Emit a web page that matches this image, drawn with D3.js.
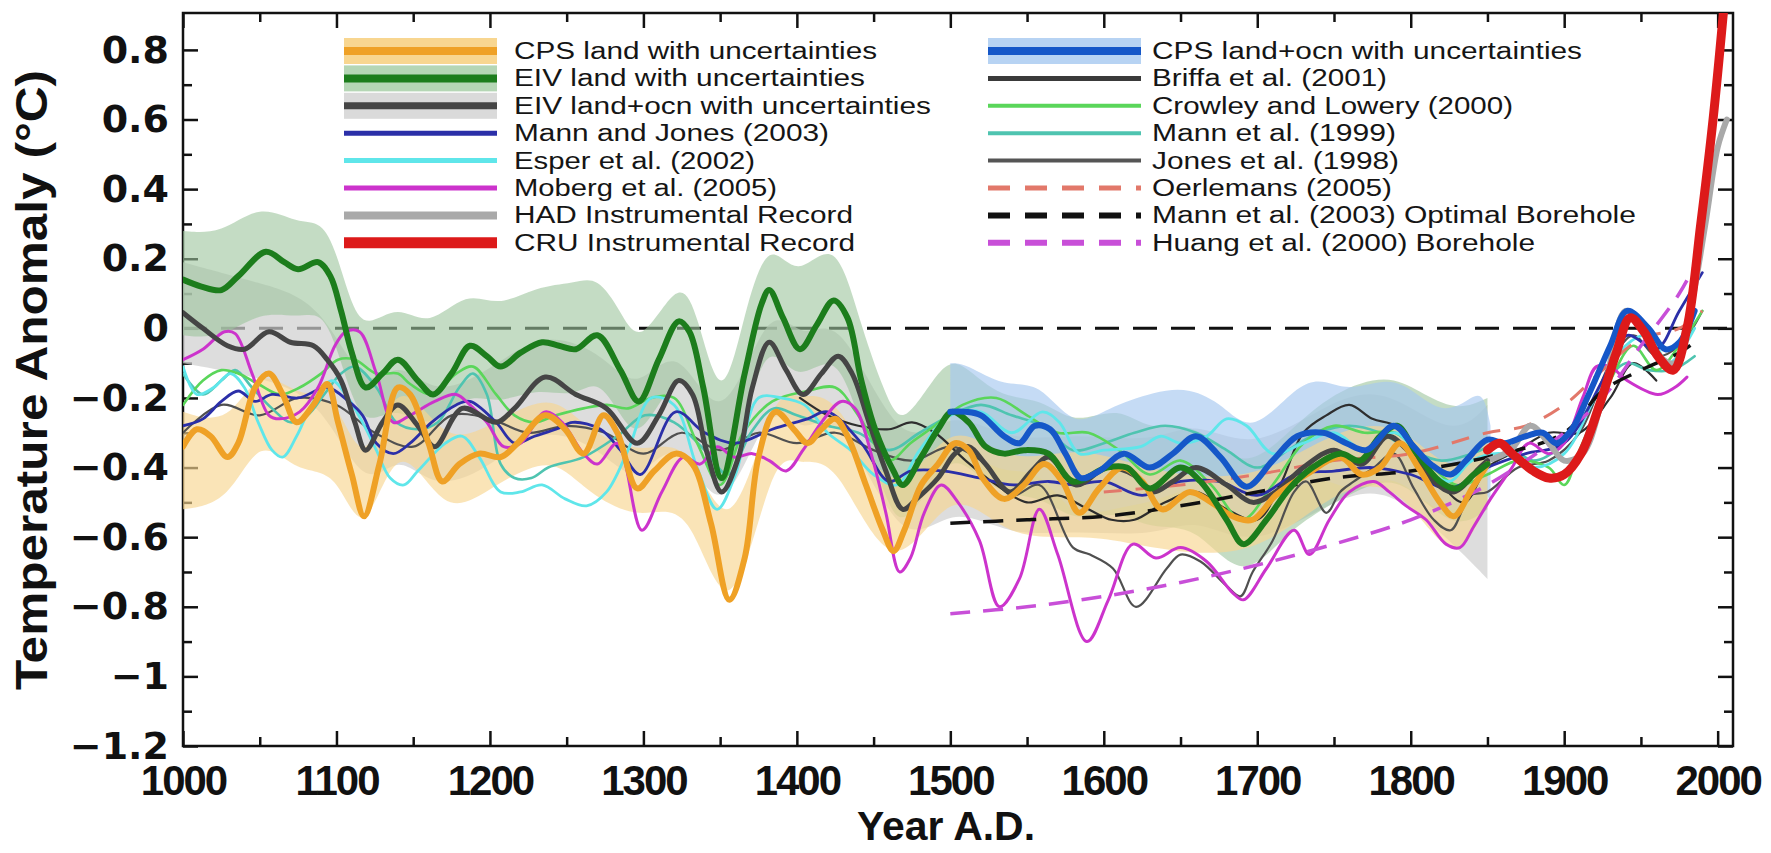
<!DOCTYPE html>
<html><head><meta charset="utf-8">
<script src="https://cdn.jsdelivr.net/npm/d3@7"></script>
<style>html,body{margin:0;padding:0;background:#fff;}svg{display:block;}</style>
</head><body>
<svg id="chart" width="1771" height="853"></svg>
<script>
// ---------------- DATA ----------------
const xMajorTicks = [1000,1100,1200,1300,1400,1500,1600,1700,1800,1900,2000];
const xMinorTicks = [1050,1150,1250,1350,1450,1550,1650,1750,1850,1950];
const yMajorTicks = [-1.2,-1,-0.8,-0.6,-0.4,-0.2,0,0.2,0.4,0.6,0.8];
const yTickLabels = ["\u22121.2","\u22121","\u22120.8","\u22120.6","\u22120.4","\u22120.2","0","0.2","0.4","0.6","0.8"];
const yMinorTicks = [-1.1,-0.9,-0.7,-0.5,-0.3,-0.1,0.1,0.3,0.5,0.7];

// [year, lower, upper]
const cpsLandBand = [[1000,-0.52,-0.24],[1030,-0.50,-0.28],[1050,-0.30,-0.10],[1075,-0.42,-0.20],[1100,-0.40,-0.18],[1118,-0.64,-0.44],[1140,-0.28,-0.10],[1170,-0.55,-0.34],[1200,-0.46,-0.28],[1240,-0.36,-0.18],[1260,-0.46,-0.28],[1298,-0.56,-0.37],[1330,-0.48,-0.30],[1356,-0.92,-0.66],[1385,-0.34,-0.16],[1402,-0.40,-0.21],[1425,-0.36,-0.17],[1463,-0.76,-0.54],[1500,-0.43,-0.24],[1535,-0.60,-0.39],[1575,-0.60,-0.35],[1600,-0.60,-0.36],[1640,-0.64,-0.42],[1700,-0.66,-0.44],[1750,-0.46,-0.29],[1793,-0.43,-0.26],[1828,-0.71,-0.44],[1850,-0.50,-0.31]];
const eivLandBand = [[1000,-0.02,0.28],[1025,-0.03,0.27],[1050,0.05,0.36],[1075,0.03,0.30],[1090,0.05,0.31],[1100,-0.05,0.22],[1110,-0.20,0.06],[1120,-0.28,0.00],[1140,-0.22,0.07],[1160,-0.30,0.00],[1185,-0.18,0.11],[1205,-0.22,0.06],[1230,-0.17,0.12],[1255,-0.20,0.13],[1270,-0.14,0.15],[1285,-0.25,0.05],[1298,-0.33,-0.06],[1323,-0.10,0.15],[1335,-0.22,0.05],[1351,-0.55,-0.25],[1366,-0.25,0.05],[1382,-0.02,0.27],[1400,-0.17,0.13],[1425,-0.05,0.28],[1442,-0.28,0.00],[1460,-0.52,-0.22],[1470,-0.57,-0.28],[1492,-0.42,-0.12],[1505,-0.36,-0.08],[1530,-0.48,-0.20],[1560,-0.48,-0.20],[1580,-0.56,-0.28],[1610,-0.52,-0.22],[1630,-0.58,-0.30],[1660,-0.56,-0.26],[1690,-0.74,-0.42],[1720,-0.58,-0.30],[1750,-0.50,-0.18],[1785,-0.42,-0.13],[1805,-0.48,-0.18],[1830,-0.58,-0.24],[1850,-0.52,-0.20]];
const eivLandOcnBand = [[1000,-0.10,0.19],[1050,-0.14,0.13],[1090,-0.20,0.08],[1119,-0.48,-0.20],[1140,-0.35,-0.08],[1164,-0.47,-0.20],[1200,-0.40,-0.12],[1236,-0.27,0.00],[1276,-0.36,-0.08],[1296,-0.46,-0.19],[1323,-0.28,-0.02],[1351,-0.60,-0.33],[1382,-0.18,0.10],[1404,-0.32,-0.05],[1427,-0.21,0.06],[1469,-0.66,-0.38],[1500,-0.50,-0.22],[1539,-0.60,-0.33],[1582,-0.58,-0.30],[1632,-0.60,-0.33],[1660,-0.54,-0.26],[1697,-0.64,-0.36],[1750,-0.49,-0.20],[1785,-0.45,-0.17],[1828,-0.62,-0.32],[1850,-0.72,-0.22]];
const cpsLandOcnBand = [[1500,-0.33,-0.10],[1510,-0.35,-0.10],[1535,-0.42,-0.17],[1558,-0.40,-0.15],[1580,-0.55,-0.29],[1602,-0.52,-0.23],[1634,-0.50,-0.18],[1656,-0.45,-0.17],[1678,-0.50,-0.22],[1697,-0.58,-0.31],[1728,-0.44,-0.15],[1745,-0.43,-0.15],[1760,-0.47,-0.18],[1786,-0.42,-0.14],[1802,-0.47,-0.18],[1819,-0.53,-0.24],[1834,-0.52,-0.22],[1847,-0.45,-0.17],[1852,-0.50,-0.28]];

// [year, value]
const cpsLand = [[1000,-0.34],[1009,-0.29],[1018,-0.31],[1029,-0.37],[1036,-0.33],[1047,-0.17],[1056,-0.13],[1065,-0.19],[1074,-0.27],[1085,-0.22],[1094,-0.16],[1101,-0.27],[1110,-0.42],[1118,-0.54],[1128,-0.39],[1140,-0.17],[1148,-0.19],[1160,-0.33],[1169,-0.44],[1180,-0.39],[1193,-0.36],[1207,-0.37],[1218,-0.33],[1236,-0.25],[1249,-0.29],[1261,-0.36],[1274,-0.25],[1283,-0.30],[1296,-0.46],[1307,-0.41],[1321,-0.36],[1332,-0.39],[1344,-0.56],[1356,-0.78],[1366,-0.66],[1375,-0.37],[1386,-0.24],[1398,-0.29],[1407,-0.33],[1416,-0.29],[1425,-0.26],[1433,-0.31],[1445,-0.45],[1456,-0.58],[1463,-0.64],[1470,-0.58],[1481,-0.45],[1492,-0.39],[1503,-0.33],[1512,-0.35],[1521,-0.43],[1535,-0.49],[1548,-0.45],[1561,-0.39],[1573,-0.44],[1584,-0.53],[1597,-0.46],[1612,-0.40],[1625,-0.44],[1638,-0.52],[1656,-0.47],[1670,-0.50],[1684,-0.54],[1697,-0.55],[1712,-0.48],[1732,-0.42],[1754,-0.37],[1768,-0.42],[1780,-0.40],[1793,-0.33],[1805,-0.40],[1819,-0.50],[1828,-0.54],[1840,-0.46],[1850,-0.39]];
const eivLand = [[1000,0.14],[1012,0.12],[1025,0.11],[1036,0.15],[1054,0.22],[1066,0.19],[1075,0.17],[1088,0.19],[1096,0.15],[1103,0.05],[1110,-0.07],[1119,-0.17],[1130,-0.13],[1140,-0.09],[1153,-0.15],[1163,-0.19],[1175,-0.13],[1187,-0.05],[1198,-0.08],[1207,-0.11],[1220,-0.07],[1234,-0.04],[1245,-0.05],[1256,-0.06],[1270,-0.02],[1285,-0.12],[1297,-0.21],[1310,-0.09],[1323,0.02],[1330,-0.01],[1339,-0.17],[1351,-0.43],[1366,-0.13],[1377,0.07],[1382,0.11],[1391,0.03],[1402,-0.06],[1413,0.01],[1424,0.08],[1433,0.03],[1442,-0.15],[1451,-0.29],[1463,-0.41],[1469,-0.45],[1481,-0.37],[1492,-0.29],[1501,-0.24],[1512,-0.27],[1523,-0.34],[1535,-0.36],[1548,-0.35],[1564,-0.36],[1580,-0.44],[1602,-0.40],[1615,-0.40],[1630,-0.46],[1650,-0.40],[1663,-0.44],[1680,-0.55],[1691,-0.62],[1706,-0.55],[1721,-0.46],[1736,-0.40],[1754,-0.36],[1767,-0.38],[1780,-0.31],[1791,-0.28],[1804,-0.36],[1819,-0.44],[1830,-0.46],[1841,-0.42],[1850,-0.39]];
const eivLandOcn = [[1000,0.045],[1013,0.0],[1029,-0.05],[1040,-0.06],[1056,-0.01],[1070,-0.04],[1085,-0.05],[1094,-0.09],[1103,-0.15],[1112,-0.27],[1119,-0.35],[1130,-0.27],[1140,-0.22],[1153,-0.28],[1164,-0.34],[1182,-0.23],[1204,-0.27],[1216,-0.23],[1236,-0.14],[1256,-0.19],[1276,-0.23],[1296,-0.33],[1310,-0.25],[1323,-0.15],[1332,-0.19],[1341,-0.35],[1351,-0.47],[1362,-0.37],[1371,-0.17],[1382,-0.04],[1393,-0.12],[1404,-0.19],[1416,-0.13],[1427,-0.08],[1436,-0.13],[1447,-0.27],[1458,-0.41],[1469,-0.52],[1478,-0.49],[1492,-0.43],[1503,-0.36],[1512,-0.34],[1523,-0.39],[1539,-0.47],[1553,-0.41],[1564,-0.37],[1582,-0.45],[1602,-0.40],[1619,-0.42],[1632,-0.47],[1645,-0.44],[1660,-0.40],[1680,-0.45],[1697,-0.50],[1712,-0.47],[1730,-0.40],[1750,-0.35],[1768,-0.39],[1785,-0.31],[1800,-0.36],[1815,-0.44],[1828,-0.47],[1845,-0.40],[1850,-0.38]];
const cpsLandOcn = [[1500,-0.24],[1510,-0.24],[1520,-0.25],[1535,-0.31],[1545,-0.33],[1555,-0.28],[1565,-0.29],[1575,-0.36],[1585,-0.43],[1597,-0.41],[1613,-0.36],[1630,-0.40],[1645,-0.36],[1660,-0.31],[1676,-0.37],[1693,-0.455],[1710,-0.38],[1726,-0.31],[1743,-0.30],[1758,-0.33],[1771,-0.35],[1789,-0.28],[1802,-0.34],[1813,-0.39],[1826,-0.42],[1836,-0.38],[1850,-0.32],[1861,-0.33],[1875,-0.31],[1886,-0.30],[1895,-0.33],[1905,-0.29],[1916,-0.19],[1930,-0.05],[1941,0.05],[1955,0.0],[1966,-0.06],[1975,-0.04],[1985,0.05]];
const mannJones2003 = [[1000,-0.28],[1013,-0.26],[1025,-0.21],[1036,-0.18],[1047,-0.21],[1058,-0.19],[1075,-0.20],[1094,-0.17],[1108,-0.21],[1117,-0.25],[1126,-0.33],[1137,-0.36],[1148,-0.33],[1162,-0.27],[1178,-0.22],[1187,-0.21],[1204,-0.27],[1216,-0.33],[1229,-0.31],[1243,-0.29],[1254,-0.27],[1272,-0.29],[1285,-0.35],[1298,-0.42],[1321,-0.24],[1340,-0.30],[1360,-0.33],[1384,-0.29],[1407,-0.26],[1420,-0.24],[1442,-0.33],[1460,-0.44],[1474,-0.41],[1496,-0.41],[1519,-0.43],[1541,-0.45],[1564,-0.44],[1580,-0.45],[1600,-0.44],[1625,-0.48],[1650,-0.44],[1675,-0.44],[1700,-0.48],[1725,-0.42],[1750,-0.41],[1775,-0.40],[1800,-0.42],[1825,-0.46],[1850,-0.40],[1875,-0.36],[1900,-0.33],[1925,-0.15],[1941,-0.02],[1960,-0.06],[1975,0.05],[1990,0.16]];
const esper2002 = [[1000,-0.11],[1009,-0.19],[1020,-0.17],[1031,-0.13],[1040,-0.17],[1049,-0.27],[1058,-0.35],[1065,-0.37],[1074,-0.31],[1085,-0.21],[1097,-0.15],[1106,-0.19],[1117,-0.27],[1126,-0.35],[1135,-0.43],[1144,-0.45],[1153,-0.41],[1171,-0.33],[1182,-0.31],[1193,-0.37],[1207,-0.47],[1220,-0.47],[1234,-0.45],[1249,-0.49],[1263,-0.51],[1276,-0.47],[1290,-0.35],[1305,-0.20],[1320,-0.22],[1335,-0.40],[1348,-0.52],[1360,-0.42],[1375,-0.20],[1390,-0.20],[1405,-0.22],[1420,-0.30],[1435,-0.35],[1450,-0.42],[1465,-0.45],[1480,-0.35],[1500,-0.25],[1520,-0.24],[1540,-0.30],[1560,-0.24],[1571,-0.27],[1584,-0.36],[1600,-0.35],[1624,-0.34],[1637,-0.31],[1650,-0.33],[1667,-0.31],[1680,-0.26],[1693,-0.28],[1710,-0.36],[1730,-0.33],[1750,-0.30],[1770,-0.35],[1790,-0.30],[1810,-0.40],[1825,-0.44],[1840,-0.38],[1860,-0.36],[1880,-0.40],[1900,-0.36],[1920,-0.20],[1940,-0.05],[1955,-0.02],[1968,-0.10],[1985,0.0]];
const moberg2005 = [[1000,-0.09],[1013,-0.06],[1027,-0.01],[1034,-0.015],[1045,-0.13],[1056,-0.25],[1063,-0.26],[1076,-0.24],[1088,-0.17],[1099,-0.05],[1106,-0.01],[1115,-0.01],[1126,-0.13],[1137,-0.27],[1148,-0.25],[1164,-0.21],[1178,-0.19],[1187,-0.22],[1198,-0.27],[1209,-0.34],[1220,-0.33],[1236,-0.24],[1247,-0.27],[1261,-0.36],[1270,-0.39],[1283,-0.33],[1299,-0.58],[1312,-0.47],[1326,-0.37],[1337,-0.39],[1348,-0.34],[1359,-0.37],[1371,-0.36],[1382,-0.38],[1393,-0.41],[1404,-0.35],[1416,-0.27],[1429,-0.21],[1438,-0.23],[1449,-0.37],[1458,-0.53],[1467,-0.70],[1474,-0.66],[1483,-0.53],[1494,-0.45],[1505,-0.50],[1519,-0.61],[1532,-0.80],[1545,-0.72],[1558,-0.52],[1570,-0.65],[1589,-0.90],[1603,-0.78],[1619,-0.62],[1634,-0.66],[1650,-0.63],[1667,-0.67],[1684,-0.76],[1691,-0.78],[1706,-0.69],[1724,-0.58],[1734,-0.65],[1747,-0.55],[1760,-0.47],[1776,-0.44],[1786,-0.47],[1797,-0.51],[1810,-0.55],[1823,-0.62],[1832,-0.63],[1841,-0.57],[1852,-0.49],[1866,-0.40],[1877,-0.33],[1890,-0.36],[1900,-0.33],[1912,-0.20],[1921,-0.11],[1930,-0.11],[1941,-0.15],[1961,-0.19],[1972,-0.17],[1980,-0.14]];
const crowleyLowery2000 = [[1000,-0.22],[1013,-0.15],[1025,-0.12],[1036,-0.13],[1049,-0.16],[1063,-0.19],[1076,-0.17],[1090,-0.13],[1101,-0.09],[1112,-0.09],[1126,-0.13],[1140,-0.13],[1148,-0.16],[1162,-0.19],[1178,-0.13],[1189,-0.11],[1204,-0.19],[1216,-0.25],[1229,-0.27],[1243,-0.25],[1261,-0.23],[1276,-0.22],[1290,-0.23],[1305,-0.20],[1320,-0.20],[1335,-0.33],[1350,-0.45],[1365,-0.30],[1384,-0.21],[1407,-0.18],[1425,-0.17],[1440,-0.25],[1460,-0.38],[1474,-0.33],[1490,-0.28],[1508,-0.22],[1530,-0.20],[1550,-0.25],[1570,-0.30],[1590,-0.30],[1610,-0.35],[1630,-0.42],[1650,-0.38],[1670,-0.45],[1690,-0.55],[1710,-0.45],[1730,-0.33],[1750,-0.28],[1770,-0.30],[1790,-0.30],[1810,-0.38],[1830,-0.45],[1850,-0.42],[1870,-0.38],[1890,-0.40],[1900,-0.45],[1910,-0.35],[1930,-0.15],[1945,-0.05],[1960,-0.12],[1975,-0.05],[1990,0.05]];
const mann1999 = [[1000,-0.13],[1013,-0.19],[1025,-0.15],[1034,-0.12],[1045,-0.17],[1058,-0.23],[1070,-0.27],[1081,-0.25],[1092,-0.19],[1103,-0.13],[1112,-0.11],[1126,-0.17],[1139,-0.27],[1153,-0.29],[1166,-0.27],[1180,-0.17],[1189,-0.13],[1198,-0.19],[1207,-0.39],[1216,-0.43],[1227,-0.43],[1238,-0.40],[1261,-0.37],[1283,-0.31],[1301,-0.25],[1320,-0.27],[1340,-0.35],[1355,-0.42],[1370,-0.30],[1385,-0.23],[1400,-0.25],[1420,-0.28],[1440,-0.30],[1460,-0.35],[1480,-0.30],[1500,-0.25],[1520,-0.22],[1540,-0.25],[1560,-0.28],[1580,-0.35],[1600,-0.33],[1620,-0.30],[1640,-0.28],[1660,-0.30],[1680,-0.35],[1700,-0.40],[1720,-0.35],[1740,-0.30],[1760,-0.28],[1780,-0.30],[1800,-0.35],[1820,-0.38],[1840,-0.36],[1860,-0.33],[1880,-0.38],[1900,-0.33],[1920,-0.20],[1940,-0.10],[1955,-0.12],[1970,-0.12],[1985,-0.08]];
const jones1998 = [[1000,-0.30],[1025,-0.22],[1050,-0.25],[1075,-0.20],[1100,-0.22],[1125,-0.30],[1150,-0.34],[1175,-0.25],[1200,-0.26],[1225,-0.30],[1250,-0.28],[1275,-0.30],[1300,-0.36],[1325,-0.30],[1350,-0.35],[1375,-0.30],[1400,-0.33],[1425,-0.30],[1450,-0.35],[1475,-0.38],[1500,-0.34],[1520,-0.38],[1540,-0.48],[1558,-0.45],[1580,-0.63],[1591,-0.65],[1606,-0.69],[1621,-0.80],[1641,-0.69],[1650,-0.65],[1663,-0.67],[1680,-0.74],[1689,-0.77],[1697,-0.70],[1710,-0.61],[1724,-0.47],[1732,-0.44],[1745,-0.53],[1754,-0.47],[1763,-0.44],[1776,-0.40],[1789,-0.36],[1802,-0.46],[1815,-0.55],[1826,-0.58],[1839,-0.48],[1850,-0.47],[1870,-0.40],[1890,-0.38],[1910,-0.30],[1930,-0.10],[1945,-0.02],[1960,-0.08],[1975,-0.05],[1990,0.05]];
const briffa2001 = [[1402,-0.20],[1420,-0.25],[1440,-0.28],[1460,-0.29],[1475,-0.27],[1490,-0.30],[1510,-0.38],[1530,-0.45],[1550,-0.50],[1570,-0.48],[1590,-0.52],[1605,-0.55],[1620,-0.55],[1640,-0.50],[1660,-0.47],[1680,-0.52],[1700,-0.55],[1715,-0.45],[1730,-0.30],[1745,-0.25],[1760,-0.22],[1775,-0.26],[1790,-0.28],[1805,-0.35],[1820,-0.45],[1835,-0.50],[1850,-0.40],[1870,-0.35],[1890,-0.30],[1910,-0.30],[1930,-0.20],[1945,-0.10],[1960,-0.15]];
const oerlemans2005 = [[1600,-0.47],[1650,-0.45],[1700,-0.42],[1750,-0.38],[1800,-0.36],[1850,-0.30],[1875,-0.28],[1900,-0.22],[1925,-0.12],[1950,-0.03],[1975,0.0],[1990,0.05]];
const mann2003Borehole = [[1500,-0.56],[1550,-0.55],[1600,-0.54],[1650,-0.51],[1700,-0.47],[1750,-0.43],[1800,-0.41],[1850,-0.37],[1900,-0.30],[1925,-0.18],[1950,-0.12],[1975,-0.07],[1985,-0.04]];
const huang2000Borehole = [[1500,-0.82],[1550,-0.80],[1600,-0.77],[1650,-0.73],[1700,-0.68],[1750,-0.62],[1800,-0.55],[1850,-0.45],[1900,-0.30],[1925,-0.20],[1950,-0.05],[1975,0.10],[1985,0.18]];
const hadRecord = [[1850,-0.38],[1865,-0.35],[1878,-0.28],[1890,-0.33],[1900,-0.38],[1912,-0.36],[1925,-0.20],[1940,0.05],[1950,0.02],[1962,-0.08],[1972,-0.10],[1982,0.05],[1992,0.30],[2000,0.52],[2006,0.60]];
const cruRecord = [[1850,-0.35],[1858,-0.33],[1866,-0.36],[1880,-0.41],[1890,-0.43],[1900,-0.42],[1911,-0.36],[1923,-0.22],[1934,-0.07],[1943,0.03],[1952,-0.01],[1961,-0.08],[1971,-0.12],[1980,0.0],[1989,0.30],[1997,0.60],[2004,0.92]];

const legendLeft = ["CPS land with uncertainties","EIV land with uncertainties","EIV land+ocn with uncertainties","Mann and Jones (2003)","Esper et al. (2002)","Moberg et al. (2005)","HAD Instrumental Record","CRU Instrumental Record"];
const legendRight = ["CPS land+ocn with uncertainties","Briffa et al. (2001)","Crowley and Lowery (2000)","Mann et al. (1999)","Jones et al. (1998)","Oerlemans (2005)","Mann et al. (2003) Optimal Borehole","Huang et al. (2000) Borehole"];
const legendLeftWidths = [363,351,417,315,241,263,339,341];
const legendRightWidths = [430,235,361,244,247,240,484,383];

// ---------------- CHART ----------------
const L = 183, R = 1733, T = 13, B = 746;
const x = d3.scaleLinear().domain([1000, 2010]).range([L, R]);
const y = d3.scaleLinear().domain([-1.2, 0.906]).range([B, T]);
const svg = d3.select("#chart");

svg.append("defs").append("clipPath").attr("id","clip")
  .append("rect").attr("x",L).attr("y",T).attr("width",R-L).attr("height",B-T);

svg.append("rect").attr("x",L).attr("y",T).attr("width",R-L).attr("height",B-T)
  .attr("fill","none").attr("stroke","#111").attr("stroke-width",2.5);

function styleAxis(g){ g.select(".domain").remove(); g.selectAll(".tick line").attr("stroke","#111").attr("stroke-width",2.5); }

svg.append("g").attr("transform",`translate(0,${B})`)
  .call(d3.axisBottom(x).tickValues(xMajorTicks).tickSize(-15).tickSizeOuter(0).tickPadding(19).tickFormat(d3.format("d")))
  .call(styleAxis)
  .call(g=>g.selectAll("text").attr("font-family","Liberation Sans, Arial, sans-serif").attr("font-weight","bold").attr("font-size",42).attr("letter-spacing",-2).attr("fill","#111"));
svg.append("g").attr("transform",`translate(0,${B})`)
  .call(d3.axisBottom(x).tickValues(xMinorTicks).tickSize(-9).tickSizeOuter(0).tickFormat("")).call(styleAxis);
svg.append("g").attr("transform",`translate(0,${T})`)
  .call(d3.axisTop(x).tickValues(xMajorTicks).tickSize(-15).tickSizeOuter(0).tickFormat("")).call(styleAxis);
svg.append("g").attr("transform",`translate(0,${T})`)
  .call(d3.axisTop(x).tickValues(xMinorTicks).tickSize(-9).tickSizeOuter(0).tickFormat("")).call(styleAxis);

svg.append("g").attr("transform",`translate(${L},0)`)
  .call(d3.axisLeft(y).tickValues(yMajorTicks).tickSize(-15).tickSizeOuter(0).tickPadding(14).tickFormat((d,i)=>yTickLabels[i]))
  .call(styleAxis)
  .call(g=>g.selectAll("text").attr("font-family","DejaVu Sans, sans-serif").attr("font-weight","bold").attr("font-size",38).attr("fill","#111"));
svg.append("g").attr("transform",`translate(${L},0)`)
  .call(d3.axisLeft(y).tickValues(yMinorTicks).tickSize(-9).tickSizeOuter(0).tickFormat("")).call(styleAxis);
svg.append("g").attr("transform",`translate(${R},0)`)
  .call(d3.axisRight(y).tickValues(yMajorTicks).tickSize(-15).tickSizeOuter(0).tickFormat("")).call(styleAxis);
svg.append("g").attr("transform",`translate(${R},0)`)
  .call(d3.axisRight(y).tickValues(yMinorTicks).tickSize(-9).tickSizeOuter(0).tickFormat("")).call(styleAxis);

svg.append("text").attr("transform","translate(47,380) rotate(-90)")
  .attr("text-anchor","middle").attr("font-family","Liberation Sans, Arial, sans-serif")
  .attr("font-weight","bold").attr("font-size",44).attr("fill","#111")
  .attr("textLength",620).attr("lengthAdjust","spacingAndGlyphs")
  .text("Temperature Anomaly (\u00B0C)");
svg.append("text").attr("x",946).attr("y",840).attr("text-anchor","middle")
  .attr("font-family","Liberation Sans, Arial, sans-serif").attr("font-weight","bold")
  .attr("font-size",40).attr("fill","#111").attr("textLength",178).attr("lengthAdjust","spacingAndGlyphs")
  .text("Year A.D.");

const plot = svg.append("g").attr("clip-path","url(#clip)");

plot.append("line").attr("x1",L).attr("x2",R).attr("y1",y(0)).attr("y2",y(0))
  .attr("stroke","#111").attr("stroke-width",3).attr("stroke-dasharray","24,14");

const area = d3.area().x(d=>x(d[0])).y0(d=>y(d[1])).y1(d=>y(d[2])).curve(d3.curveBasis);
const line = d3.line().x(d=>x(d[0])).y(d=>y(d[1])).curve(d3.curveCatmullRom.alpha(0.5));

plot.append("path").datum(eivLandOcnBand).attr("d",area).attr("fill","#cfcfcf").attr("opacity",0.7);
plot.append("path").datum(eivLandBand).attr("d",area).attr("fill","#9cc59c").attr("opacity",0.6);
plot.append("path").datum(cpsLandOcnBand).attr("d",area).attr("fill","#a6c8f0").attr("opacity",0.65);
plot.append("path").datum(cpsLandBand).attr("d",area).attr("fill","#f8d690").attr("opacity",0.65);

function drawLine(data, color, width, dash){
  const p = plot.append("path").datum(data).attr("d",line).attr("fill","none")
    .attr("stroke",color).attr("stroke-width",width).attr("stroke-linejoin","round").attr("stroke-linecap","round");
  if (dash) p.attr("stroke-dasharray",dash).attr("stroke-linecap","butt");
}
drawLine(jones1998,"#505050",2.2);
drawLine(briffa2001,"#2e2e2e",2.2);
drawLine(mann1999,"#4fc4b0",2.6);
drawLine(crowleyLowery2000,"#5ad65a",2.6);
drawLine(esper2002,"#5fe6ea",2.8);
drawLine(mannJones2003,"#2b2fa8",2.8);
drawLine(moberg2005,"#cc33cc",3);
drawLine(oerlemans2005,"#e2786a",3,"18,14");
drawLine(mann2003Borehole,"#111",3.5,"20,13");
drawLine(huang2000Borehole,"#c84fd8",3.5,"20,13");
drawLine(hadRecord,"#a9a9a9",6);
drawLine(eivLandOcn,"#454545",5);
drawLine(cpsLand,"#efa126",6);
drawLine(eivLand,"#1c7d1c",6);
drawLine(cpsLandOcn,"#1557c8",6);
drawLine(cruRecord,"#dd1a1a",9);

// legend
const rowY = d3.range(8).map(i=>51 + i*27.4);
const legend = svg.append("g").attr("font-family","Liberation Sans, Arial, sans-serif").attr("font-size",23).attr("fill","#151515");
const leftStyles = [
  {band:"#f8d690", color:"#efa126", w:8},
  {band:"#b5d6b5", color:"#1c7d1c", w:8},
  {band:"#dadada", color:"#454545", w:7},
  {color:"#2b2fa8", w:5},
  {color:"#5fe6ea", w:5},
  {color:"#cc33cc", w:5},
  {color:"#a9a9a9", w:8},
  {color:"#dd1a1a", w:11}
];
const rightStyles = [
  {band:"#b7d3f3", color:"#1557c8", w:8},
  {color:"#3a3a3a", w:5},
  {color:"#5ad65a", w:4},
  {color:"#4fc4b0", w:4},
  {color:"#555", w:4},
  {color:"#e2786a", w:5, dash:"22,15"},
  {color:"#111", w:6, dash:"22,15"},
  {color:"#c84fd8", w:6, dash:"22,15"}
];
function drawLegend(names, widths, styles, x0, x1, tx){
  names.forEach((n,i)=>{
    const s = styles[i], yy = rowY[i];
    if (s.band) legend.append("rect").attr("x",x0).attr("y",yy-13).attr("width",x1-x0).attr("height",26).attr("fill",s.band);
    const l = legend.append("line").attr("x1",x0).attr("x2",x1).attr("y1",yy).attr("y2",yy)
      .attr("stroke",s.color).attr("stroke-width",s.w);
    if (s.dash) l.attr("stroke-dasharray",s.dash);
    legend.append("text").attr("x",tx).attr("y",yy).attr("dy","0.35em")
      .attr("textLength",widths[i]).attr("lengthAdjust","spacingAndGlyphs").text(n);
  });
}
drawLegend(legendLeft, legendLeftWidths, leftStyles, 344, 497, 514);
drawLegend(legendRight, legendRightWidths, rightStyles, 988, 1141, 1152);
</script>
</body></html>
